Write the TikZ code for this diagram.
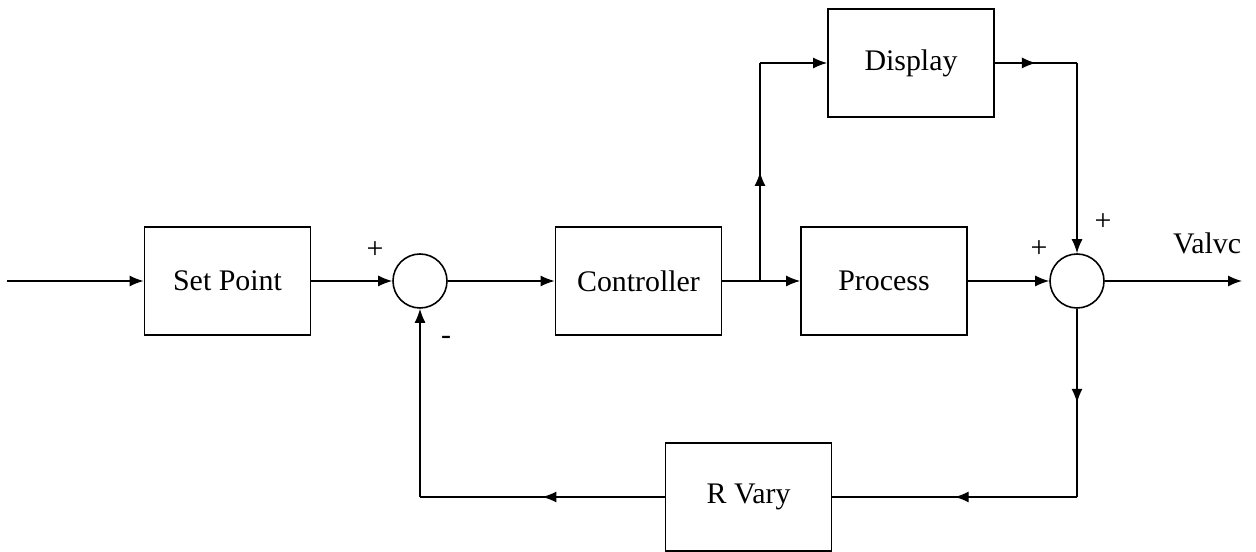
\documentclass[tikz,border=0pt]{standalone}
\usepackage{fontspec}
\setmainfont{Liberation Serif}
\usetikzlibrary{arrows.meta,calc,decorations.markings,positioning}

\begin{document}
\begin{tikzpicture}[
		block/.style={draw, line width=1pt, minimum width=3.32cm, minimum height=2.16cm, font=\fontsize{17}{20}\selectfont},
		sumnode/.style={draw, circle, line width=0.9pt, minimum size=1.08cm, inner sep=0pt},
		signal/.style={line width=0.8pt},
		tip/.style={-{Latex[length=2.8mm,width=2.2mm]}},
		midarrow/.style={postaction={decorate}, decoration={markings, mark=at position 0.5 with {\arrow{Latex[length=2.8mm,width=2.2mm]}}}},
		sign/.style={font=\fontsize{17}{20}\selectfont}
	]
		\useasboundingbox (0,0) rectangle (25.12,11.04);
		\node[block] (setp) at (4.55,5.42) {Set Point};
		\node[sumnode] (sumA) at (8.4,5.42) {};
		\node[block] (ctrl) at (12.77,5.42) {Controller};
		\node[block] (proc) at (17.68,5.42) {Process};
		\node[block] (disp) at (18.22,9.78) {Display};
		\node[sumnode] (sumB) at (21.54,5.42) {};
		\node[block] (rvary) at (14.97,1.10) {R Vary};
		\coordinate (in) at (0.14,5.42);
		\coordinate (out) at (24.84,5.42);
		\coordinate (split) at (15.2,5.42);
		\coordinate (splitup) at (split |- disp.west);
		\coordinate (dispcorner) at (sumB |- disp.east);
		\coordinate (fbright) at (sumB |- rvary.east);
		\coordinate (fbleft) at (sumA |- rvary.west);
		\draw[signal, tip] (in) -- (setp.west);
		\draw[signal, tip] (setp.east) -- (sumA.west);
		\draw[signal, tip] (sumA.east) -- (ctrl.west);
		\draw[signal, tip] (ctrl.east) -- (proc.west);
		\draw[signal, midarrow] (split) -- (splitup);
		\draw[signal, tip] (splitup) -- (disp.west);
		\draw[signal, midarrow] (disp.east) -- (dispcorner);
		\draw[signal, tip] (dispcorner) -- (sumB.north);
		\draw[signal, tip] (proc.east) -- (sumB.west);
		\draw[signal, tip] (sumB.east) -- (out);
		\draw[signal, midarrow] (sumB.south) -- (fbright);
		\draw[signal, midarrow] (fbright) -- (rvary.east);
		\draw[signal, midarrow] (rvary.west) -- (fbleft);
		\draw[signal, tip] (fbleft) -- (sumA.south);
		\node[sign] (plusA) at (7.5,6.04) {+};
		\node[sign] (minusA) at (8.92,4.24) {-};
		\node[sign] (plusB) at (20.78,6.06) {+};
		\node[sign] (plusC) at (22.06,6.6) {+};
		\node[sign] (valve) at (24.14,6.18) {Valvc};
	\end{tikzpicture}
\end{document}
